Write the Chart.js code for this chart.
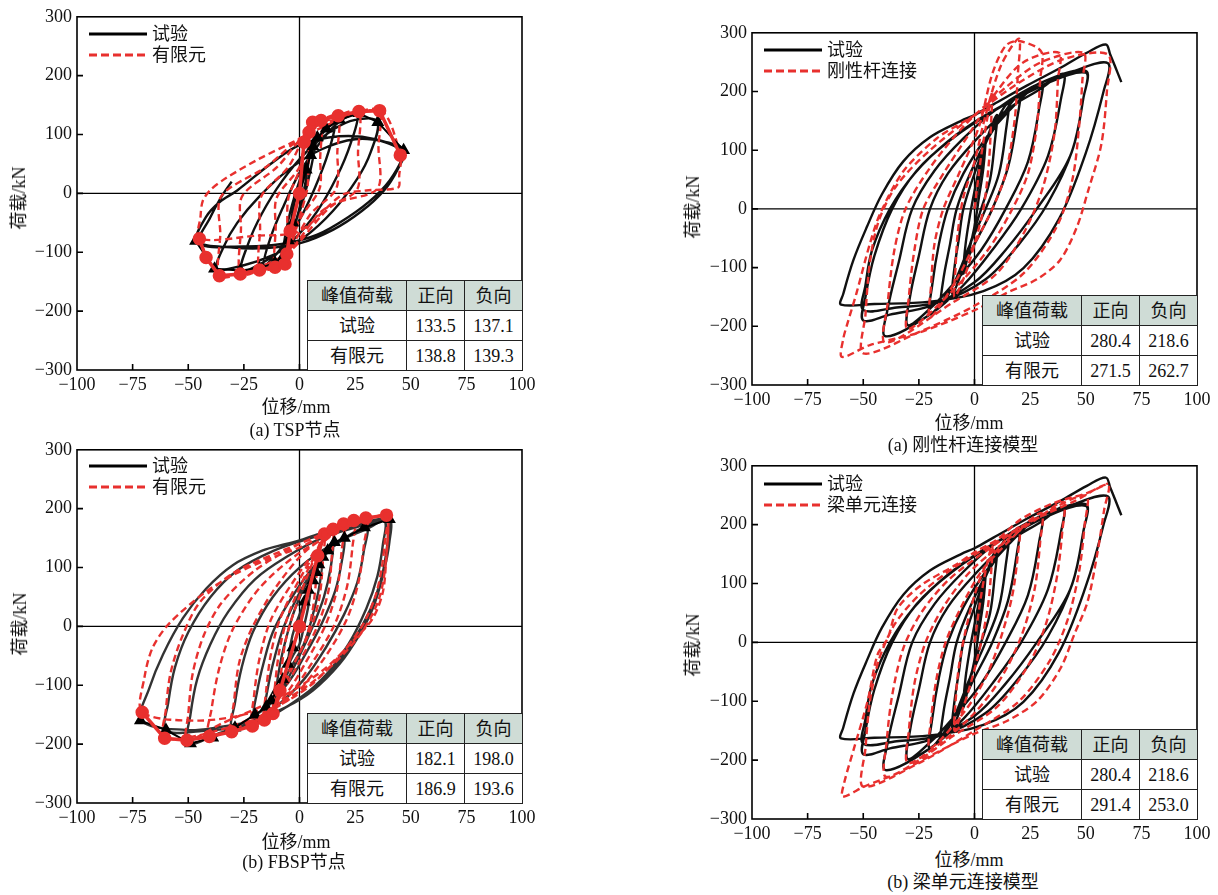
<!DOCTYPE html>
<html>
<head>
<meta charset="utf-8">
<script src="https://cdn.jsdelivr.net/npm/chart.js@4.4.1/dist/chart.umd.min.js"></script>
<style>
  body { margin: 0; background: #fff; width: 1218px; height: 895px; position: relative; overflow: hidden;
         font-family: "Liberation Serif", "Noto Sans CJK SC", serif; color: #111; }
  canvas { position: absolute; }
  .lbl { position: absolute; font-size: 18px; white-space: nowrap; transform: translate(-50%, -50%); line-height: 1; }
  .ytitle { transform: translate(-50%, -50%) rotate(-90deg); }
  .legend { position: absolute; font-size: 18px; line-height: 1; }
  .legend div { position: absolute; white-space: nowrap; transform: translateY(-50%); }
  table.peak { position: absolute; border-collapse: collapse; table-layout: fixed; background: #fff; font-size: 18px; }
  table.peak td { border: 1.5px solid #222; text-align: center; padding: 0; height: 29px; line-height: 1; }
  table.peak tr.head td { background: #cfdcd6; }
</style>
</head>
<body>
<script>
//? DATOS DEL GRAFICO

const xTickValues = [-100, -75, -50, -25, 0, 25, 50, 75, 100];
const yTickValues = [-300, -200, -100, 0, 100, 200, 300];
const xTitle = "位移/mm";
const yTitle = "荷载/kN";
const testName = "试验";
const tableHead = ["峰值荷载", "正向", "负向"];
const tableRows = ["试验", "有限元"];

const tspPeaks = [[133.5, 137.1], [138.8, 139.3]];
const fbspPeaks = [[182.1, 198.0], [186.9, 193.6]];
const rigidPeaks = [[280.4, 218.6], [271.5, 262.7]];
const beamPeaks = [[280.4, 218.6], [291.4, 253.0]];

// (a) TSP节点
const tspTest = [
  [0, 0], [2, 28], [4, 58],
  [2.5, 15], [0, -25], [-2, -50], [-4, -62],
  [-2.5, -20], [0, 15], [3, 50], [7, 90],
  [5, 40], [1, -20], [-3, -60], [-7, -95],
  [-5, -45], [-1, 10], [4, 60], [10, 100], [16, 122],
  [13, 70], [7, 10], [0, -45], [-8, -92], [-16, -122],
  [-13, -75], [-7, -20], [0, 35], [10, 90], [18, 122], [26, 135],
  [23, 85], [17, 30], [8, -30], [-3, -80], [-14, -112], [-26, -131],
  [-23, -85], [-17, -35], [-8, 20], [3, 70], [15, 108], [25, 125], [35, 122],
  [32, 70], [26, 25], [15, -30], [2, -75], [-12, -105], [-25, -122], [-37, -128],
  [-34, -90], [-28, -50], [-18, -5], [-5, 40], [10, 75], [25, 92], [38, 88], [47, 73],
  [44, 40], [38, 5], [28, -30], [15, -62], [0, -85], [-15, -93], [-30, -92], [-46, -81],
  [-42, -40], [-36, -15], [-28, 5], [-13, 50], [0, 82], [18, 97], [34, 92], [46, 70],
  [42, 30], [34, -5], [22, -40], [8, -70], [-8, -86], [-25, -90], [-45, -85],
  [-40, -40], [-35, -5], [-30.5, 20]
];
const tspFe = [
  [0, 0], [2, 87], [4.3, 104],
  [4, 50], [3.5, 8], [0, -40], [-4, -85], [-5.7, -103],
  [-5.5, -50], [-5, -8], [0, 40], [4, 100], [9.7, 124],
  [9.3, 60], [9, 8], [0, -45], [-5, -100], [-11, -125],
  [-10.7, -60], [-10.3, -8], [0, 45], [4, 104], [9.7, 124], [17.4, 132],
  [17, 70], [16.5, 8], [5, -35], [-5, -100], [-11, -125], [-18, -130],
  [-17.7, -60], [-17.3, -6], [-5, 45], [4, 104], [17.4, 132], [26.7, 139],
  [26.3, 70], [25.8, 6], [10, -30], [-5, -100], [-18, -130], [-26.6, -137],
  [-26.3, -60], [-25.8, -5], [-10, 45], [4, 104], [26.7, 139], [36, 140.6],
  [35.5, 80], [35, 8], [15, -20], [-5, -100], [-26.6, -137], [-36, -140],
  [-35.6, -70], [-35.2, -5], [-15, 45], [3, 99], [36, 140.6], [45.3, 65],
  [44.8, 30], [44.3, 10], [30, 5], [19, -3], [0, -64], [-20, -72], [-45, -77],
  [-44.5, -40], [-43.5, -13], [-40, 6], [-33, 26], [-18, 59], [-3, 87], [3, 99]
];
const tspTestSkeleton = [
  [-46.7, -80.7], [-38.2, -128], [-26.6, -131], [-18, -127], [-11, -118], [-7, -105], [-5, -80],
  [-3, -50], [0, 0], [3, 40], [5, 65], [6, 80], [8, 95], [12, 110], [18, 125], [26.7, 136],
  [35.2, 121], [46.8, 73.4]
];
const tspFeSkeleton = [
  [-45, -77], [-42, -109], [-36, -140], [-26.6, -137], [-18, -130], [-11, -125.5], [-6.5, -120],
  [-5.7, -103], [-4.2, -64], [0, 0], [2, 87], [4.3, 104], [5.9, 121], [9.7, 124], [17.4, 132],
  [26.7, 139], [36, 140.6], [45.3, 65]
];

// (b) FBSP节点
const fbspTest = [
  [0, 0], [2.5, 40], [5, 70],
  [4, 35], [2, 0], [0, -30], [-3, -50], [-5, -64],
  [-4, -30], [-2, 0], [1, 30], [5, 75], [10, 115],
  [9, 70], [6, 20], [2, -30], [-4, -70], [-10, -108],
  [-9, -70], [-6, -20], [-2, 30], [4, 80], [10, 115], [15, 143],
  [14, 100], [11, 50], [6, 0], [0, -50], [-7, -100], [-15, -137],
  [-14, -100], [-11, -50], [-7, 0], [-1, 50], [7, 100], [15, 135], [20, 150],
  [19, 110], [16, 60], [10, 5], [3, -45], [-6, -100], [-20, -150],
  [-19, -110], [-16, -60], [-12, -10], [-5, 40], [5, 95], [15, 135], [30, 168],
  [29, 130], [26, 75], [20, 20], [12, -35], [2, -90], [-12, -140], [-30, -172],
  [-29, -130], [-26, -70], [-21, -10], [-12, 50], [0, 100], [15, 140], [30, 165], [40, 182],
  [39.5, 140], [37, 85], [32, 30], [24, -25], [12, -85], [-5, -135], [-20, -165], [-35, -180], [-50, -199],
  [-49, -150], [-46, -90], [-40, -30], [-32, 25], [-20, 80], [-5, 120], [10, 150], [25, 168], [38, 180],
  [37.5, 140], [35, 85], [30, 30], [22, -30], [10, -90], [-5, -135], [-25, -168], [-45, -178], [-60, -176],
  [-59, -130], [-56, -70], [-50, -10], [-40, 50], [-28, 95], [-12, 128], [5, 150], [20, 165], [40, 182],
  [40.4, 143], [37.5, 87], [33, 31], [27, -14], [18, -64], [6, -109], [-6, -137], [-21, -160], [-36, -171], [-51, -176], [-71, -160],
  [-67.4, -104], [-61.4, -48], [-52.4, 14], [-42, 64], [-30, 104], [-16.5, 129], [-6, 140], [0, 146], [9, 157], [24, 168], [38, 180]
];
const fbspFe = [
  [0, 0], [3, 45], [6, 85], [8.2, 120],
  [7.5, 80], [6, 30], [3, -20], [-2, -60], [-6, -85], [-8.8, -109],
  [-8, -70], [-6, -20], [-2, 30], [4, 90], [11.2, 157],
  [10.5, 110], [9, 50], [5, -5], [-2, -60], [-8, -110], [-11.9, -148],
  [-11, -100], [-9, -40], [-5, 20], [3, 90], [11.2, 150], [15.1, 165],
  [14.5, 120], [13, 60], [8, 0], [0, -60], [-9, -120], [-15.8, -159],
  [-15, -110], [-13, -50], [-9, 10], [0, 80], [10, 140], [19.8, 174],
  [19, 130], [17, 65], [12, 5], [3, -60], [-8, -125], [-21.2, -169],
  [-20.5, -120], [-18, -55], [-13, 10], [-3, 75], [10, 140], [24.4, 180],
  [23.8, 135], [21.5, 70], [16, 5], [6, -60], [-8, -130], [-30.5, -179],
  [-29.5, -130], [-27, -60], [-21, 0], [-10, 70], [5, 135], [29.8, 184],
  [29, 140], [26.5, 75], [21, 10], [10, -60], [-5, -125], [-40.5, -187],
  [-39.5, -140], [-36, -70], [-30, -5], [-18, 65], [0, 125], [20, 165], [39.1, 189],
  [39.7, 160], [39, 115], [37.5, 59], [33, 14], [24, -25], [12, -70], [-3, -109], [-18, -137], [-35, -165], [-50.6, -193.5],
  [-50, -150], [-48, -80], [-43, -15], [-35, 40], [-20, 95], [0, 140], [20, 170], [39, 188],
  [38.5, 150], [37, 100], [34, 50], [28, 0], [18, -50], [5, -100], [-12, -140], [-35, -175], [-60.6, -190],
  [-60, -140], [-58, -80], [-53, -20], [-45, 40], [-30, 90], [-10, 125], [10, 155], [30, 180], [39, 188],
  [39, 120], [36, 50], [28, -10], [15, -65], [0, -110], [-20, -145], [-45, -160], [-70.7, -146],
  [-69.7, -87], [-66, -36], [-58.4, 5.6], [-42, 59], [-28.5, 90], [-13.5, 115], [0, 134], [10.5, 154]
];
const fbspTestSkeleton = [
  [-71.5, -160], [-60, -176], [-49, -199], [-39, -189], [-29, -172], [-20, -150], [-15, -137],
  [-12.7, -126], [-10, -108], [-7.5, -90], [-5.2, -64], [-3, -36], [0, 0], [2.2, 42], [4, 62],
  [6, 78], [7.5, 92], [8.7, 105], [10.5, 118], [12.7, 129], [15.7, 143], [20.2, 150], [29.2, 168], [40.4, 182]
];
const fbspFeSkeleton = [
  [-70.7, -146], [-60.6, -190], [-50.6, -193.5], [-40.5, -187], [-30.5, -179], [-21.2, -169],
  [-15.8, -159], [-11.9, -148], [-8.8, -109], [0, 0], [8.2, 120], [11.2, 157], [15.1, 165],
  [19.8, 174], [24.4, 180], [29.8, 184], [39.1, 189]
];

// 试验 curve shared by (a) 刚性杆连接模型 and (b) 梁单元连接模型
const jointTest = [
  [0, 0], [3, 70], [5, 120],
  [4, 70], [2, 20], [0, -30], [-3, -80], [-5, -110],
  [-4, -60], [-2, -10], [0, 30], [4, 100], [10, 160],
  [9, 110], [7, 50], [3, 0], [-2, -60], [-6, -110], [-10, -145],
  [-9, -100], [-7, -50], [-5, 0], [0, 60], [6, 120], [15, 180],
  [14, 130], [11, 60], [5, 0], [-2, -60], [-9, -125], [-15, -165],
  [-14, -120], [-11, -60], [-8, 0], [-2, 60], [6, 120], [20, 195],
  [19, 150], [15, 70], [8, 0], [0, -60], [-8, -120], [-20, -180],
  [-19, -130], [-16, -60], [-12, 0], [-5, 60], [5, 120], [15, 165], [30, 215],
  [29, 170], [24, 80], [14, 0], [3, -70], [-10, -130], [-20, -170], [-30, -198],
  [-29, -150], [-25, -80], [-20, 0], [-12, 60], [0, 115], [15, 170], [30, 205], [40, 230],
  [39, 190], [33, 90], [21, 0], [8, -70], [-5, -130], [-20, -180], [-40, -217],
  [-39, -170], [-34, -90], [-28, 0], [-18, 65], [-5, 120], [10, 170], [30, 215], [50, 235],
  [49, 190], [43, 90], [28, 0], [14, -70], [0, -125], [-20, -165], [-38, -180], [-50, -190],
  [-49, -150], [-45, -80], [-37, 0], [-26, 65], [-10, 120], [10, 170], [30, 210], [50, 232],
  [49, 190], [44, 100], [33, 10], [20, -60], [5, -120], [-15, -158], [-35, -168], [-50, -172],
  [-49, -130], [-46, -70], [-38, 0], [-27, 60], [-12, 115], [5, 160], [25, 200], [45, 235], [60, 248],
  [58, 200], [50, 95], [38, -17], [22, -101], [4, -140], [-20, -158], [-45, -162], [-60, -163],
  [-59, -145], [-54.4, -87], [-48.4, -31], [-41.6, 25], [-32, 81], [-20, 122], [-6, 150], [0, 160],
  [8.5, 178], [23.5, 210], [38.5, 240], [50.5, 266], [59, 280],
  [61, 263], [66, 216]
];
const rigidFe = [
  [0, 0], [3, 90], [6, 160], [8, 200],
  [7.5, 150], [6.5, 80], [4, 0], [0, -60], [-4, -110], [-9, -150],
  [-8.5, -100], [-7.5, -40], [-5, 20], [0, 80], [5, 160], [12, 245], [20, 290],
  [19.5, 230], [18, 150], [14, 60], [8, 0], [0, -60], [-8, -120], [-20, -185],
  [-19.5, -130], [-18, -60], [-14, 0], [-7, 60], [2, 140], [8, 230], [14, 278], [20, 286], [30, 268],
  [29.5, 220], [28, 140], [24, 60], [17, 0], [6, -70], [-10, -140], [-30, -205],
  [-29.5, -150], [-27, -70], [-23, 0], [-14, 60], [-2, 130], [10, 200], [22, 250], [38, 266],
  [37.5, 220], [36, 130], [31, 40], [23, -35], [10, -110], [-10, -160], [-40, -228],
  [-39, -160], [-36, -70], [-31, 0], [-20, 70], [-5, 140], [15, 210], [30, 250], [49, 266],
  [48.5, 220], [47, 140], [44, 50], [37, -30], [22, -110], [0, -165], [-25, -210], [-50, -246],
  [-49, -180], [-47, -90], [-43, -20], [-35, 40], [-20, 100], [0, 160], [20, 215], [40, 255], [60, 263],
  [59.5, 200], [57, 110], [51, 30], [46, -31], [38.5, -87], [28, -120], [14.5, -143], [1, -171],
  [-24.4, -210], [-47, -232], [-59.6, -252],
  [-58.9, -220], [-57.4, -199], [-53, -143], [-47, -59], [-42.4, -8], [-32, 64], [-17, 120], [-5, 148], [5, 170]
];
const beamFe = [
  [0, 0], [3, 80], [6, 140], [8, 165],
  [7.5, 120], [6, 60], [3, 0], [-1, -60], [-5, -110], [-9, -150],
  [-8.5, -100], [-7, -40], [-4, 20], [0, 80], [5, 130], [12, 165], [20, 195],
  [19.5, 150], [17, 80], [12, 10], [5, -60], [-5, -120], [-20, -180],
  [-19.5, -130], [-17, -60], [-13, 0], [-6, 60], [3, 120], [15, 170], [30, 220],
  [29.5, 170], [27, 90], [21, 10], [12, -60], [0, -120], [-15, -170], [-30, -205],
  [-29.5, -150], [-27, -70], [-22, 0], [-14, 60], [-2, 120], [15, 175], [30, 215], [40, 238],
  [39.5, 190], [37, 110], [32, 30], [24, -40], [10, -110], [-10, -160], [-25, -200], [-40, -228],
  [-39.5, -170], [-37, -90], [-32, -10], [-24, 50], [-12, 105], [5, 155], [25, 205], [50, 250],
  [49.5, 200], [47, 120], [42, 40], [34, -30], [20, -100], [0, -150], [-25, -205], [-50, -245],
  [-49, -180], [-47, -100], [-43, -30], [-36, 30], [-25, 80], [-10, 125], [5, 160], [25, 205], [45, 240], [60, 268],
  [58.3, 226], [55.3, 153], [50.8, 69], [44.8, 13], [38.8, -43], [28.3, -99], [14.8, -133], [0, -155],
  [-15, -183], [-34.6, -222], [-49.6, -245], [-59.3, -262],
  [-58.6, -239], [-54, -178], [-48, -99], [-43.6, -21], [-39, 7], [-34.6, 57.7], [-24, 97], [-9, 130.5],
  [0, 153], [10.3, 175], [20.8, 209], [35.8, 237], [50.8, 254], [60, 270]
];

//? CONFIGURACION DE LOS PANELES (posicion en la pagina)

const RED = "#e8302e";
const panels = [
  { left: 77, top: 13, w: 445, h: 357, test: tspTest, fe: tspFe, testSkel: tspTestSkeleton, feSkel: tspFeSkeleton,
    testColor: "#111", feName: "有限元", peaks: tspPeaks, caption: "(a) TSP节点",
    xTitleX: 296, xTitleY: 407, captionX: 295, captionY: 430, yTitleX: 19, yTitleY: 198, legendY: 21 },
  { left: 752, top: 29, w: 445, h: 356, test: jointTest, fe: rigidFe,
    testColor: "#111", feName: "刚性杆连接", peaks: rigidPeaks, caption: "(a) 刚性杆连接模型",
    xTitleX: 969, xTitleY: 423, captionX: 963, captionY: 445, yTitleX: 693, yTitleY: 207, legendY: 21 },
  { left: 77, top: 446, w: 445, h: 357, test: fbspTest, fe: fbspFe, testSkel: fbspTestSkeleton, feSkel: fbspFeSkeleton,
    testColor: "#333", feName: "有限元", peaks: fbspPeaks, caption: "(b) FBSP节点",
    xTitleX: 296, xTitleY: 842, captionX: 294, captionY: 862, yTitleX: 20, yTitleY: 624, legendY: 20 },
  { left: 752, top: 462, w: 445, h: 357, test: jointTest, fe: beamFe,
    testColor: "#111", feName: "梁单元连接", peaks: beamPeaks, caption: "(b) 梁单元连接模型",
    xTitleX: 969, xTitleY: 860, captionX: 963, captionY: 882, yTitleX: 693, yTitleY: 645, legendY: 22 }
];

const AXIS_W = 80;
const PAD_TOP = 12;
const PAD_RIGHT = 24;
const AXIS_H = 30;

//? FUNCION QUE FORMATEA LAS ETIQUETAS

function fmt(v) {
  return v < 0 ? "\u2212" + Math.abs(v) : String(v);
}

function toPoints(list) {
  return list.map(([x, y]) => ({ x, y }));
}

//? PLUGIN: MARCO, EJES EN CERO Y MARCAS HACIA DENTRO

const framePlugin = {
  id: "frame",
  beforeDatasetsDraw(chart) {
    const { ctx, chartArea: a, scales: { x, y } } = chart;
    const x0 = x.getPixelForValue(0);
    const y0 = y.getPixelForValue(0);
    ctx.save();
    ctx.strokeStyle = "#000";
    ctx.lineWidth = 1.3;
    ctx.beginPath();
    ctx.moveTo(x0, a.top);
    ctx.lineTo(x0, a.bottom);
    ctx.moveTo(a.left, y0);
    ctx.lineTo(a.right, y0);
    ctx.stroke();
    ctx.restore();
  },
  afterDatasetsDraw(chart) {
    const { ctx, chartArea: a, scales: { x, y } } = chart;
    ctx.save();
    ctx.strokeStyle = "#000";
    ctx.lineWidth = 1.6;
    ctx.strokeRect(a.left, a.top, a.right - a.left, a.bottom - a.top);
    ctx.beginPath();
    xTickValues.slice(1, -1).forEach((v) => {
      const px = x.getPixelForValue(v);
      ctx.moveTo(px, a.bottom);
      ctx.lineTo(px, a.bottom - 6);
    });
    yTickValues.slice(1, -1).forEach((v) => {
      const py = y.getPixelForValue(v);
      ctx.moveTo(a.left, py);
      ctx.lineTo(a.left + 6, py);
    });
    ctx.stroke();
    ctx.restore();
  }
};

//? FUNCION QUE CREA LOS DATASETS

function createDatasets(p) {
  const datasets = [
    {
      label: testName,
      data: toPoints(p.test),
      showLine: true,
      borderColor: p.testColor,
      borderWidth: 2.4,
      pointRadius: 0,
      tension: 0.35,
      order: 4
    },
    {
      label: p.feName,
      data: toPoints(p.fe),
      showLine: true,
      borderColor: RED,
      borderWidth: 2.4,
      borderDash: [7, 4],
      pointRadius: 0,
      tension: 0.3,
      order: 3
    }
  ];
  if (p.testSkel) {
    datasets.push({
      data: toPoints(p.testSkel),
      showLine: true,
      borderColor: "#000",
      borderWidth: 2,
      pointStyle: "triangle",
      pointRadius: 5.5,
      pointBackgroundColor: "#000",
      pointBorderColor: "#000",
      tension: 0,
      order: 2
    });
    datasets.push({
      data: toPoints(p.feSkel),
      showLine: true,
      borderColor: RED,
      borderWidth: 3.5,
      pointStyle: "circle",
      pointRadius: 5,
      pointBackgroundColor: RED,
      pointBorderColor: RED,
      tension: 0,
      order: 1
    });
  }
  return datasets;
}

//? FUNCION QUE RENDERIZA CADA GRAFICO

function renderPanel(p) {
  const canvas = document.createElement("canvas");
  const cw = AXIS_W + p.w + PAD_RIGHT;
  const ch = PAD_TOP + p.h + AXIS_H;
  canvas.width = cw;
  canvas.height = ch;
  canvas.style.width = cw + "px";
  canvas.style.height = ch + "px";
  canvas.style.left = (p.left - AXIS_W) + "px";
  canvas.style.top = (p.top - PAD_TOP) + "px";
  document.body.appendChild(canvas);

  const tickFont = { family: "Liberation Serif", size: 18 };
  new Chart(canvas, {
    type: "scatter",
    data: { datasets: createDatasets(p) },
    options: {
      responsive: false,
      animation: false,
      events: [],
      layout: { padding: { top: PAD_TOP, right: PAD_RIGHT, left: 0, bottom: 0 } },
      plugins: { legend: { display: false }, tooltip: { enabled: false } },
      scales: {
        x: {
          type: "linear",
          min: xTickValues[0],
          max: xTickValues[xTickValues.length - 1],
          afterBuildTicks: (s) => { s.ticks = xTickValues.map((value) => ({ value })); },
          afterFit: (s) => { s.height = AXIS_H; },
          grid: { display: false, drawTicks: false },
          border: { display: false },
          ticks: { font: tickFont, color: "#111", padding: 4, maxRotation: 0, autoSkip: false, callback: fmt }
        },
        y: {
          type: "linear",
          min: yTickValues[0],
          max: yTickValues[yTickValues.length - 1],
          afterBuildTicks: (s) => { s.ticks = yTickValues.map((value) => ({ value })); },
          afterFit: (s) => { s.width = AXIS_W; },
          grid: { display: false, drawTicks: false },
          border: { display: false },
          ticks: { font: tickFont, color: "#111", padding: 5, autoSkip: false, callback: fmt }
        }
      }
    },
    plugins: [framePlugin]
  });
}

//? TEXTOS, LEYENDA Y TABLA EN HTML

function addLabel(text, x, y, extra) {
  const d = document.createElement("div");
  d.className = "lbl" + (extra ? " " + extra : "");
  d.textContent = text;
  d.style.left = x + "px";
  d.style.top = y + "px";
  document.body.appendChild(d);
}

function addLegend(p) {
  const box = document.createElement("div");
  box.className = "legend";
  box.style.left = (p.left + 12) + "px";
  box.style.top = (p.top + p.legendY) + "px";
  const rows = [
    { name: testName, color: "#000", dash: "" },
    { name: p.feName, color: RED, dash: "8,4" }
  ];
  rows.forEach((r, i) => {
    const y = i * 21;
    const svg = document.createElementNS("http://www.w3.org/2000/svg", "svg");
    svg.setAttribute("width", "58");
    svg.setAttribute("height", "6");
    svg.style.position = "absolute";
    svg.style.left = "0px";
    svg.style.top = (y - 3) + "px";
    const line = document.createElementNS("http://www.w3.org/2000/svg", "line");
    line.setAttribute("x1", "0");
    line.setAttribute("x2", "58");
    line.setAttribute("y1", "3");
    line.setAttribute("y2", "3");
    line.setAttribute("stroke", r.color);
    line.setAttribute("stroke-width", "3");
    if (r.dash) line.setAttribute("stroke-dasharray", r.dash);
    svg.appendChild(line);
    box.appendChild(svg);
    const t = document.createElement("div");
    t.textContent = r.name;
    t.style.left = "63px";
    t.style.top = y + "px";
    box.appendChild(t);
  });
  document.body.appendChild(box);
}

function addTable(p) {
  const t = document.createElement("table");
  t.className = "peak";
  const widths = [99, 58, 58];
  const total = widths.reduce((a, b) => a + b, 0);
  t.style.width = total + "px";
  t.style.left = (p.left + p.w - total) + "px";
  t.style.top = (p.top + p.h - 90) + "px";
  const cg = document.createElement("colgroup");
  widths.forEach((w) => {
    const c = document.createElement("col");
    c.style.width = w + "px";
    cg.appendChild(c);
  });
  t.appendChild(cg);
  const head = document.createElement("tr");
  head.className = "head";
  tableHead.forEach((h) => {
    const td = document.createElement("td");
    td.textContent = h;
    head.appendChild(td);
  });
  t.appendChild(head);
  tableRows.forEach((name, i) => {
    const tr = document.createElement("tr");
    [name, p.peaks[i][0].toFixed(1), p.peaks[i][1].toFixed(1)].forEach((v) => {
      const td = document.createElement("td");
      td.textContent = v;
      tr.appendChild(td);
    });
    t.appendChild(tr);
  });
  document.body.appendChild(t);
}

panels.forEach((p) => {
  renderPanel(p);
  addLegend(p);
  addTable(p);
  addLabel(xTitle, p.xTitleX, p.xTitleY);
  addLabel(p.caption, p.captionX, p.captionY);
  addLabel(yTitle, p.yTitleX, p.yTitleY, "ytitle");
});
</script>
</body>
</html>
